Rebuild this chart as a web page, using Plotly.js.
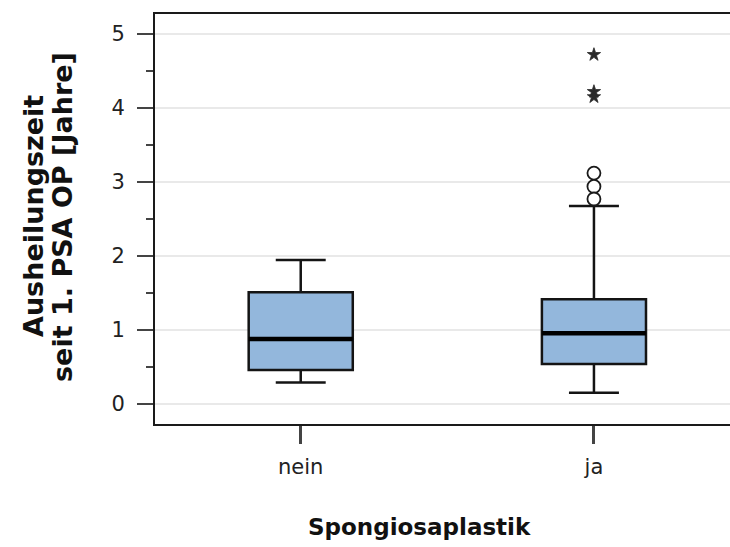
<!DOCTYPE html>
<html>
<head>
<meta charset="utf-8">
<script src="https://cdn.plot.ly/plotly-3.0.1.min.js"></script>
<style>html,body{margin:0;padding:0;background:#fff;}#chart{width:730px;height:547px;}</style>
</head>
<body>
<div id="chart"></div>
<script>
const categories = ["nein", "ja"];
const q1Values = [0.46, 0.54];
const medianValues = [0.88, 0.955];
const q3Values = [1.51, 1.415];
const lowerWhisker = [0.29, 0.153];
const upperWhisker = [1.946, 2.676];
const circleOutliersJa = [3.12, 2.94, 2.77];
const starOutliersJa = [4.72, 4.22, 4.15];
const yTickValues = [0, 1, 2, 3, 4, 5];
const xTitle = "Spongiosaplastik";
const yTitleLines = ["Ausheilungszeit", "seit 1. PSA OP [Jahre]"];

const boxWidth = 0.355;
const titleFont = {family: "DejaVu Sans, Verdana, sans-serif", color: "#111111", weight: "bold"};

const traces = [
  {
    type: "box",
    x: categories,
    q1: q1Values,
    median: medianValues,
    q3: q3Values,
    lowerfence: lowerWhisker,
    upperfence: upperWhisker,
    width: boxWidth,
    whiskerwidth: 0.48,
    fillcolor: "#93b7dc",
    line: {color: "#141414", width: 2.5},
    boxpoints: false,
    showlegend: false,
    hoverinfo: "skip"
  },
  {
    type: "scatter",
    mode: "markers",
    x: circleOutliersJa.map(() => "ja"),
    y: circleOutliersJa,
    marker: {symbol: "circle", size: 13, color: "#ffffff", line: {color: "#1a1a1a", width: 1.8}},
    showlegend: false,
    hoverinfo: "skip"
  },
  {
    type: "scatter",
    mode: "markers",
    x: starOutliersJa.map(() => "ja"),
    y: starOutliersJa,
    marker: {symbol: "star", size: 10, color: "#2a2a2a", line: {color: "#2a2a2a", width: 0.8}},
    showlegend: false,
    hoverinfo: "skip"
  }
];

const shapes = categories.map((c, i) => ({
  type: "line", xref: "x", yref: "y",
  x0: i - boxWidth / 2, x1: i + boxWidth / 2,
  y0: medianValues[i], y1: medianValues[i],
  line: {color: "#000000", width: 4.5}
}));

const annotations = [
  {text: yTitleLines[0], xref: "paper", yref: "paper", x: (33 - 155) / 575, y: (424 - 216) / 410,
   xanchor: "center", yanchor: "middle", textangle: -90, showarrow: false, font: Object.assign({size: 27}, titleFont)},
  {text: yTitleLines[1], xref: "paper", yref: "paper", x: (62 - 155) / 575, y: (424 - 217) / 410,
   xanchor: "center", yanchor: "middle", textangle: -90, showarrow: false, font: Object.assign({size: 27}, titleFont)},
  {text: xTitle, xref: "paper", yref: "paper", x: (419 - 155) / 575, y: (424 - 527) / 410,
   xanchor: "center", yanchor: "middle", showarrow: false, font: Object.assign({size: 23}, titleFont)}
];

const layout = {
  width: 730, height: 547,
  margin: {l: 155, r: 0, t: 14, b: 123},
  paper_bgcolor: "#ffffff",
  plot_bgcolor: "#ffffff",
  font: {family: "DejaVu Sans, Verdana, sans-serif", color: "#222222"},
  shapes: shapes,
  annotations: annotations,
  xaxis: {
    type: "category",
    categoryarray: categories,
    range: [-0.497, 1.464],
    showline: true, mirror: true, linecolor: "#1a1a1a", linewidth: 2,
    ticks: "outside", ticklen: 18, tickwidth: 3, tickcolor: "#444444",
    ticklabelstandoff: 5,
    tickfont: {size: 21, color: "#222222"},
    showgrid: false, zeroline: false
  },
  yaxis: {
    range: [-0.27, 5.27],
    tickvals: yTickValues,
    showline: true, mirror: false, linecolor: "#1a1a1a", linewidth: 2,
    ticks: "outside", ticklen: 16, tickwidth: 2.5, tickcolor: "#444444",
    ticklabelstandoff: 8,
    minor: {dtick: 0.5, ticks: "outside", ticklen: 7, tickwidth: 2.5, tickcolor: "#444444", showgrid: false},
    tickfont: {size: 21, color: "#222222"},
    showgrid: true, gridcolor: "#e9e9e9", gridwidth: 2,
    zeroline: false
  }
};

Plotly.newPlot("chart", traces, layout, {displayModeBar: false, staticPlot: true});
</script>
</body>
</html>
